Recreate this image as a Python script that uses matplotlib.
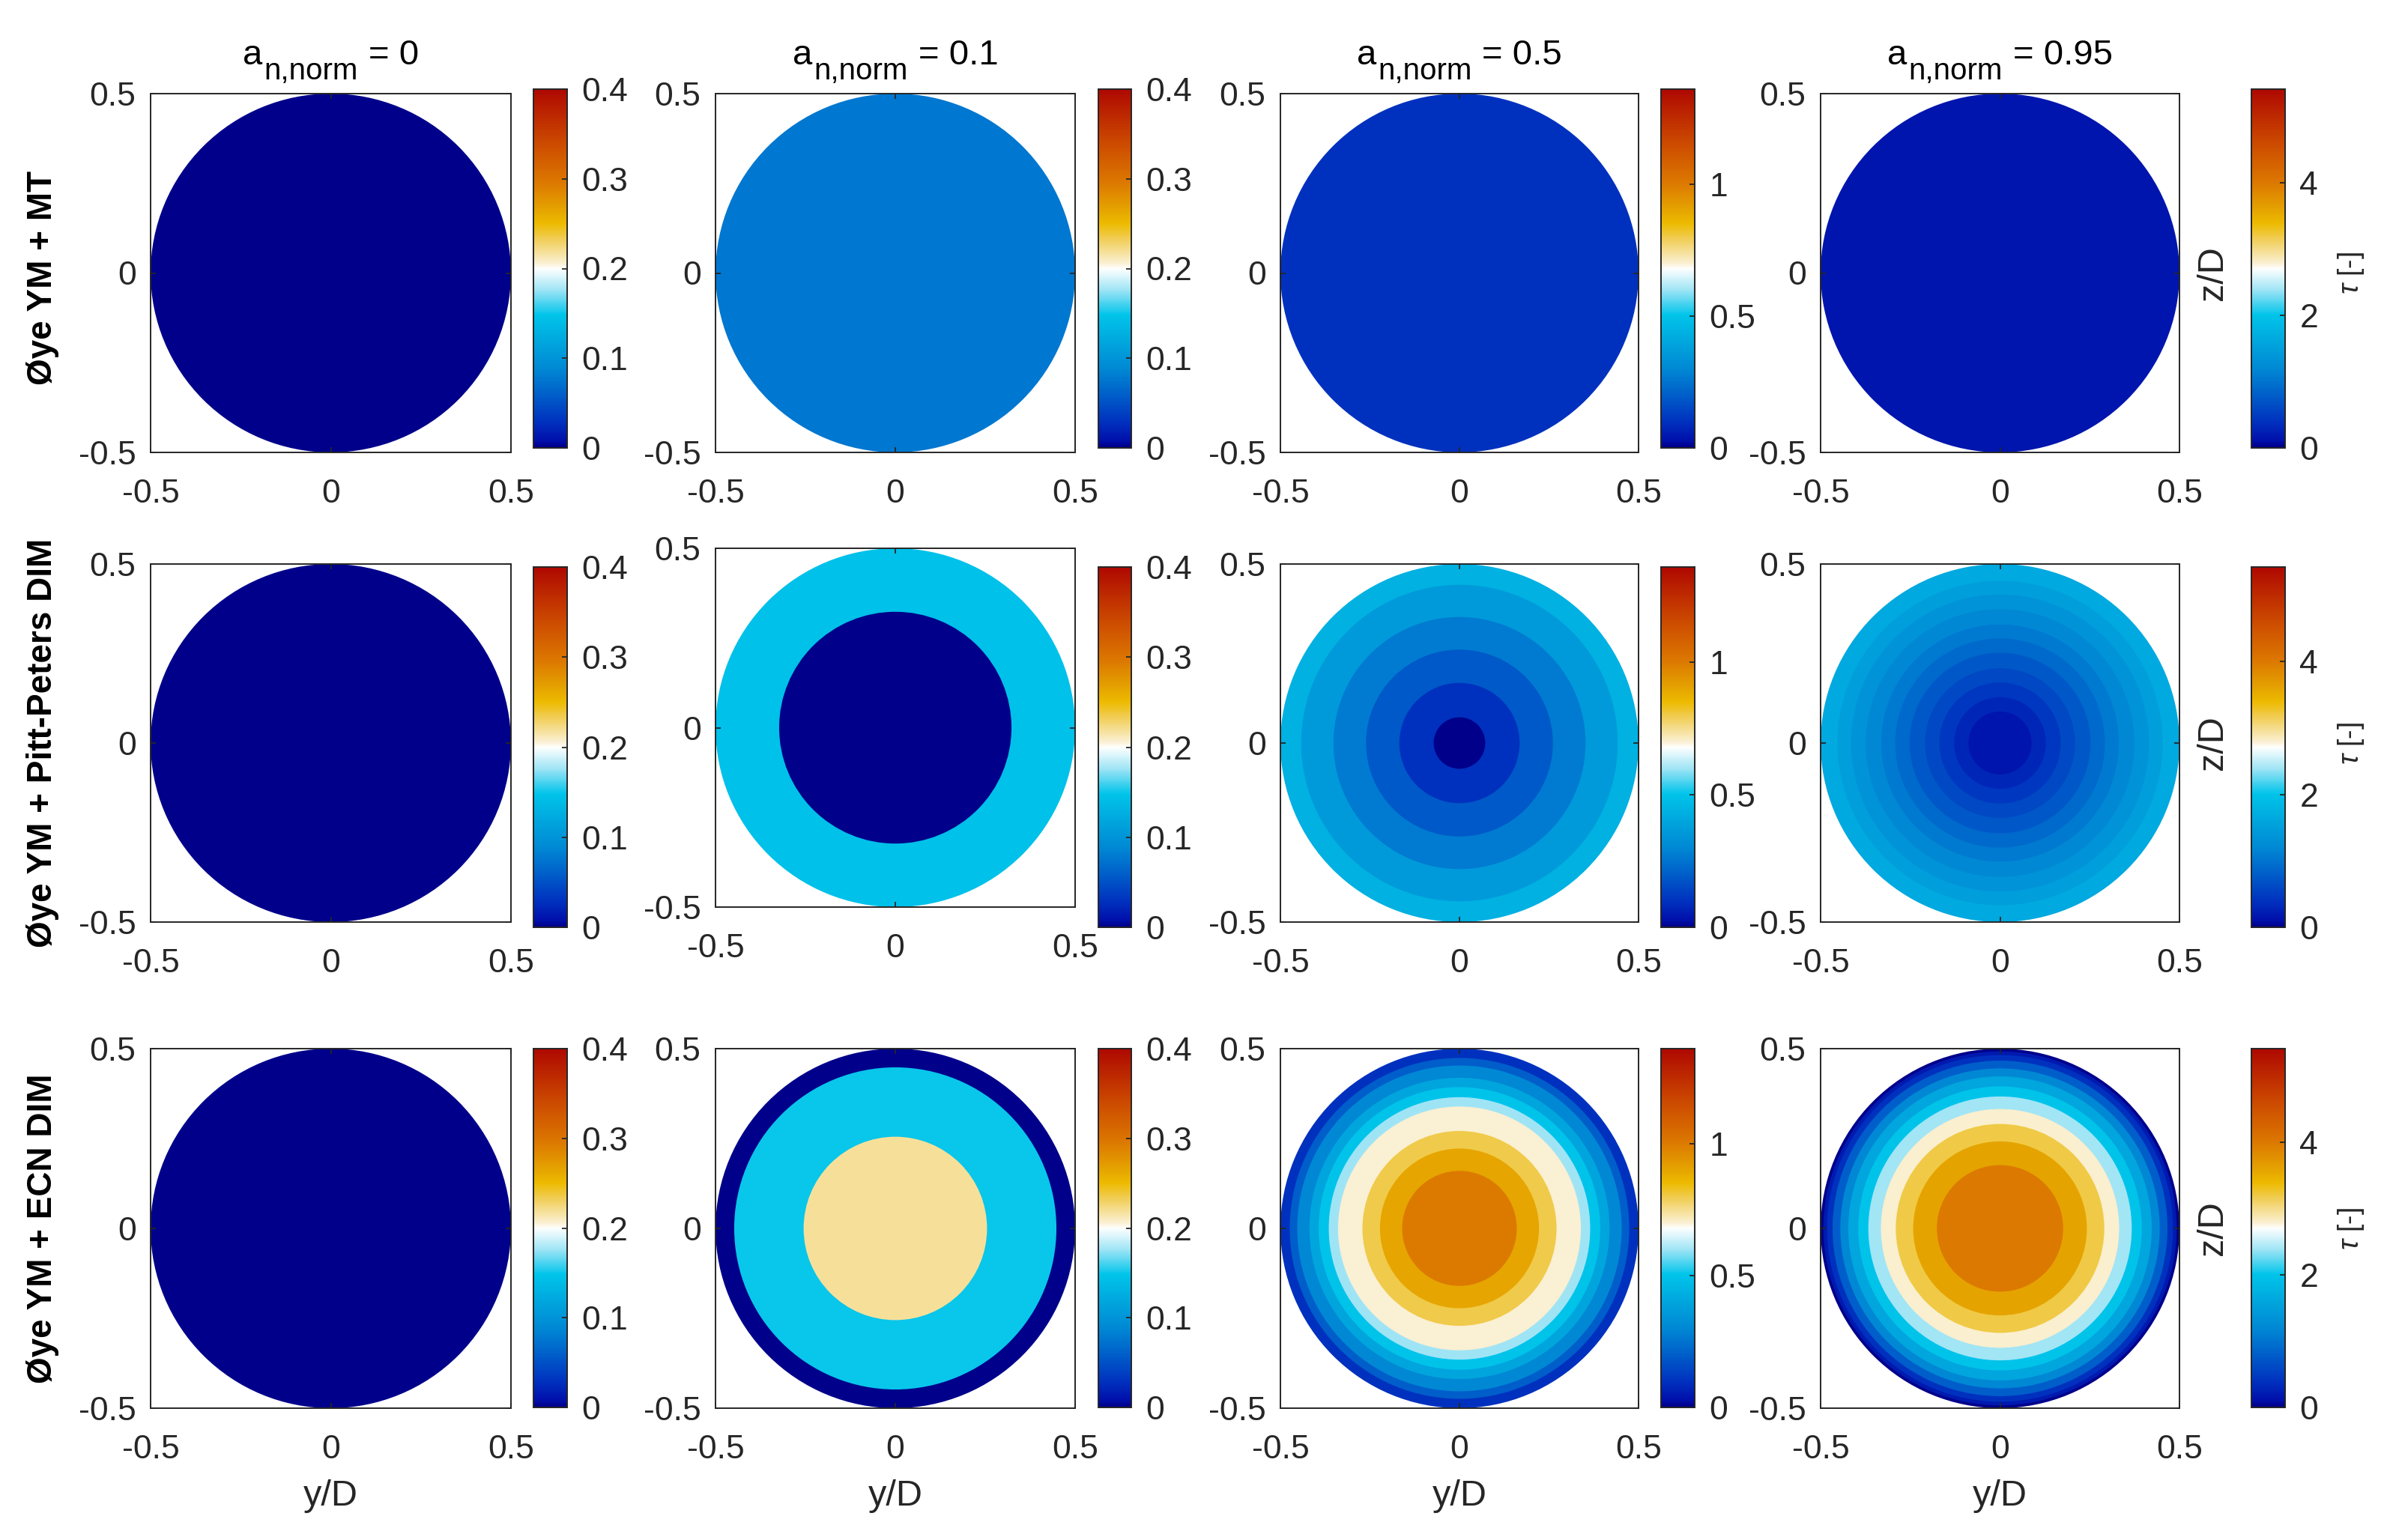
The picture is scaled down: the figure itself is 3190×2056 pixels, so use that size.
import numpy as np
import matplotlib
matplotlib.use('Agg')
import matplotlib.pyplot as plt
from matplotlib.colors import LinearSegmentedColormap, Normalize
from matplotlib.patches import Circle
from matplotlib.collections import PatchCollection
from matplotlib.cm import ScalarMappable
from matplotlib.transforms import IdentityTransform

plt.rcParams['font.family'] = ['Liberation Sans', 'DejaVu Sans']
plt.rcParams['axes.unicode_minus'] = False
plt.rcParams['mathtext.fontset'] = 'custom'
plt.rcParams['mathtext.rm'] = 'Liberation Sans'
plt.rcParams['mathtext.it'] = 'Liberation Sans:italic'

# ---------------- data ----------------
a_norm_values = ['0', '0.1', '0.5', '0.95']
row_labels = ['Øye YM + MT', 'Øye YM + Pitt-Peters DIM', 'Øye YM + ECN DIM']

cbar_max = [0.4, 0.4, 1.36, 5.42]
cbar_ticks = [[0, 0.1, 0.2, 0.3, 0.4], [0, 0.1, 0.2, 0.3, 0.4], [0, 0.5, 1], [0, 2, 4]]
cbar_ticklabels = [['0', '0.1', '0.2', '0.3', '0.4'], ['0', '0.1', '0.2', '0.3', '0.4'],
                   ['0', '0.5', '1'], ['0', '2', '4']]

# outer radius (r/D) of each filled band, outermost first, and its tau level
mt_radii = [[0.5], [0.5], [0.5], [0.5]]
mt_tau = [[0.0], [0.076], [0.1], [0.15]]

pp_radii = [[0.5],
            [0.5, 0.323],
            [0.5, 0.442, 0.352, 0.261, 0.168, 0.072],
            [0.5, 0.453, 0.415, 0.374, 0.331, 0.292, 0.252, 0.209, 0.169, 0.128, 0.088]]
pp_tau = [[0.0],
          [0.145, 0.0],
          [0.44, 0.36, 0.27, 0.19, 0.1, 0.0],
          [1.65, 1.5, 1.35, 1.2, 1.05, 0.9, 0.75, 0.6, 0.45, 0.3, 0.15]]

ecn_radii = [[0.5],
             [0.5, 0.448, 0.255],
             [0.5, 0.474, 0.453, 0.419, 0.393, 0.365, 0.339, 0.271, 0.222, 0.160],
             [0.5, 0.4923, 0.482, 0.4666, 0.445, 0.4228, 0.395, 0.367, 0.332, 0.2905, 0.242, 0.176]]
ecn_tau = [[0.0],
           [0.0, 0.15, 0.218],
           [0.1, 0.2, 0.3, 0.4, 0.5, 0.6, 0.7, 0.8, 0.9, 1.0],
           [0.0, 0.2, 0.4, 0.8, 1.2, 1.6, 2.0, 2.4, 2.8, 3.2, 3.6, 4.0]]

all_radii = [mt_radii, pp_radii, ecn_radii]
all_tau = [mt_tau, pp_tau, ecn_tau]

# ---------------- colormap ----------------
cmap_stops = [
    (0.00, '#00008A'), (0.02, '#0010AA'), (0.07, '#0030BE'), (0.15, '#0060CA'),
    (0.22, '#0088D4'), (0.30, '#00A8DE'), (0.37, '#00C4EA'), (0.44, '#9EE4F5'),
    (0.50, '#FFFFFF'), (0.515, '#FAF0D2'), (0.59, '#F0CA48'), (0.625, '#EDBB00'),
    (0.67, '#E4A000'), (0.74, '#DC7800'), (0.85, '#CC4A00'), (1.00, '#AE0800')]
cmap = LinearSegmentedColormap.from_list('bwo', cmap_stops, N=512)

# ---------------- layout (pixels) ----------------
W, H = 3190, 2056
fig = plt.figure(figsize=(W / 100, H / 100), dpi=100)

ax_x = [(201, 682), (955, 1435), (1709, 2187), (2430, 2909)]
cb_x = [(712, 757), (1466, 1510), (2217, 2262), (3005, 3050)]
ax_y = [(125, 604), (753, 1231), (1400, 1880)]
cb_y = [(119, 598), (757, 1238), (1400, 1879)]
special_ax_y = {(1, 1): (732, 1211)}

def rect(xr, yr):
    x0, x1 = xr
    y0, y1 = yr
    return [x0 / W, 1 - y1 / H, (x1 - x0) / W, (y1 - y0) / H]

TXT = '#262626'
FS = 32

for i in range(3):
    for j in range(4):
        yr = special_ax_y.get((i, j), ax_y[i])
        ax = fig.add_axes(rect(ax_x[j], yr))
        norm = Normalize(0, cbar_max[j])
        patches = [Circle((0, 0), r) for r in all_radii[i][j]]
        pc = PatchCollection(patches, cmap=cmap, norm=norm, edgecolor='none',
                             antialiased=True)
        pc.set_array(np.array(all_tau[i][j]))
        ax.add_collection(pc)
        ax.set_xlim(-0.5, 0.5)
        ax.set_ylim(-0.5, 0.5)
        ax.set_xticks([-0.5, 0, 0.5])
        ax.set_yticks([-0.5, 0, 0.5])
        ax.set_xticklabels(['-0.5', '0', '0.5'])
        ax.set_yticklabels(['-0.5', '0', '0.5'])
        ax.tick_params(axis='both', direction='in', length=5, width=1.3,
                       top=True, right=True, labelsize=FS, colors=TXT)
        ax.tick_params(axis='x', pad=25)
        ax.tick_params(axis='y', pad=14)
        for s in ax.spines.values():
            s.set_linewidth(1.4)
            s.set_edgecolor(TXT)

        cax = fig.add_axes(rect(cb_x[j], cb_y[i]))
        sm = ScalarMappable(norm=norm, cmap=cmap)
        cb = fig.colorbar(sm, cax=cax, ticks=cbar_ticks[j])
        cb.set_ticklabels(cbar_ticklabels[j])
        cax.tick_params(direction='in', length=5, width=1.3, labelsize=FS,
                        colors=TXT, pad=14)
        cb.outline.set_linewidth(1.4)
        cb.outline.set_edgecolor(TXT)

        cy = H - (yr[0] + yr[1]) / 2
        if j == 3:
            fig.text(2954 / W, cy / H, 'z/D', rotation=90, ha='center', va='center',
                     fontsize=35, color=TXT)
            fig.text(3138 / W, cy / H, r'$\tau$ [-]', rotation=90, ha='center',
                     va='center', fontsize=27, color=TXT)
        if i == 2:
            fig.text((ax_x[j][0] + ax_x[j][1]) / 2 / W, (H - 1998) / H, 'y/D',
                     ha='center', va='center', fontsize=35, color=TXT)
    ycen = (ax_y[i][0] + ax_y[i][1]) / 2
    if i == 0:
        ycen += 6
    fig.text(57 / W, (H - ycen) / H, row_labels[i], rotation=90, ha='center',
             va='center', fontsize=33, fontweight='bold', color='#000000')

# column titles a_{n,norm} = value, composed from pieces
renderer = fig.canvas.get_renderer()
for j in range(4):
    cx = (ax_x[j][0] + ax_x[j][1]) / 2
    t1 = fig.text(0, 0, 'a', fontsize=34, transform=IdentityTransform(),
                  ha='left', va='baseline', color='#000000')
    t2 = fig.text(0, 0, 'n,norm', fontsize=29, transform=IdentityTransform(),
                  ha='left', va='baseline', color='#000000')
    t3 = fig.text(0, 0, '= ' + a_norm_values[j], fontsize=34,
                  transform=IdentityTransform(), ha='left', va='baseline',
                  color='#000000')
    w1 = t1.get_window_extent(renderer).width
    w2 = t2.get_window_extent(renderer).width
    w3 = t3.get_window_extent(renderer).width
    gap = 14
    total = w1 + 2 + w2 + gap + w3
    x0 = cx - total / 2
    t1.set_position((x0, H - 86))
    t2.set_position((x0 + w1 + 2, H - 106))
    t3.set_position((x0 + w1 + 2 + w2 + gap, H - 86))

fig.savefig('out.png', dpi=100, facecolor='white')
